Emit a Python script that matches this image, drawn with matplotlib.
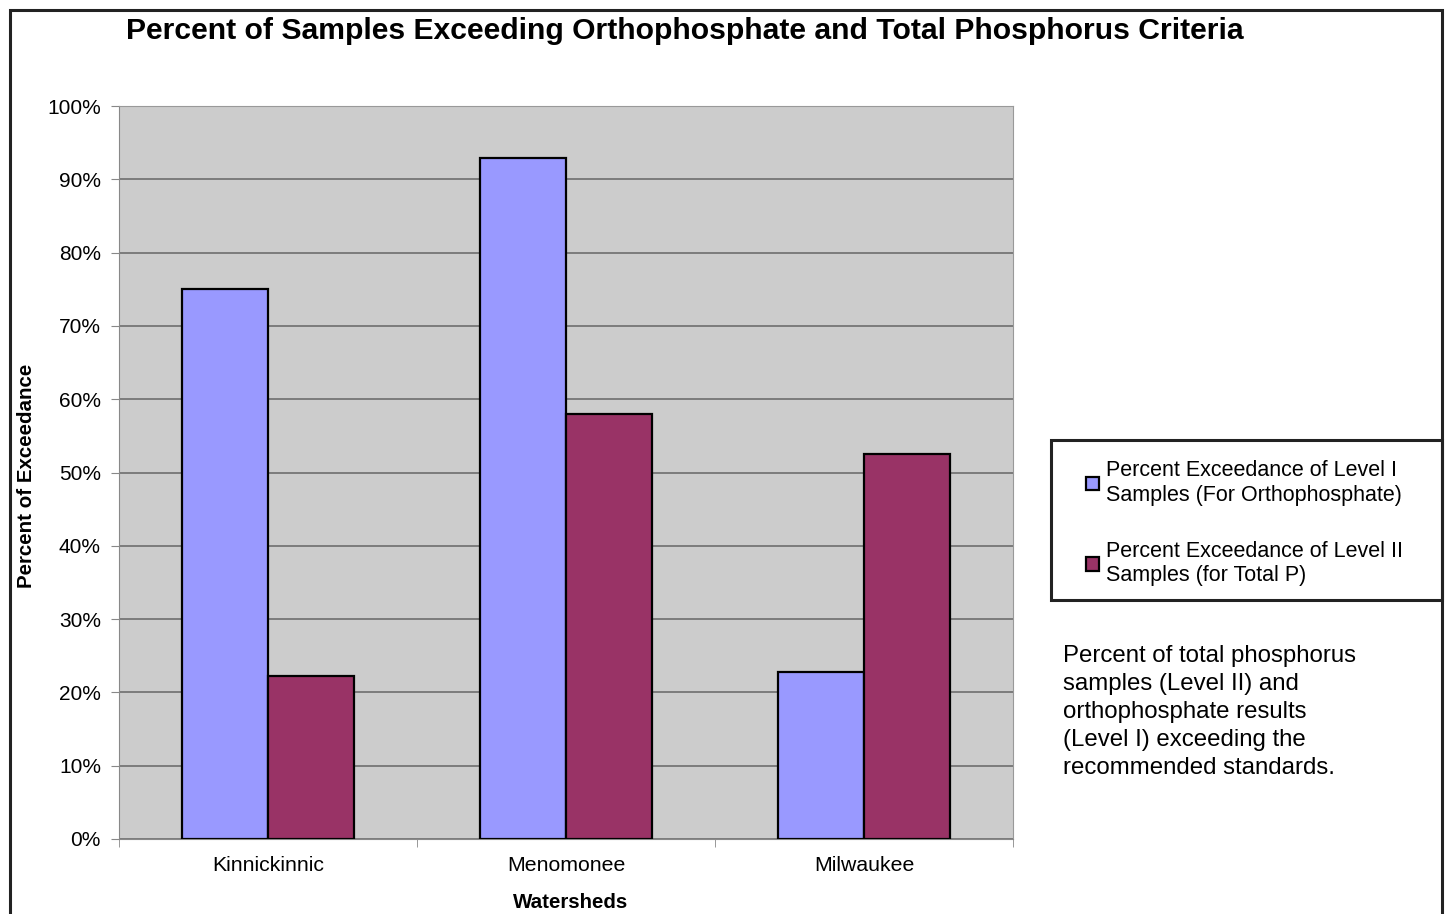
#!/usr/bin/env python3
"""Percent of samples exceeding orthophosphate and total phosphorus criteria."""

import matplotlib.pyplot as plt
import numpy as np
from matplotlib.patches import Rectangle
from matplotlib.ticker import FuncFormatter, MultipleLocator

plt.rcParams["font.family"] = ["Liberation Sans", "DejaVu Sans"]

watersheds = ["Kinnickinnic", "Menomonee", "Milwaukee"]
level1_pct = [75.0, 92.9, 22.8]
level2_pct = [22.2, 58.0, 52.5]
series_labels = [
    "Percent Exceedance of Level I\nSamples (For Orthophosphate)",
    "Percent Exceedance of Level II\nSamples (for Total P)",
]
note = ("Percent of total phosphorus\nsamples (Level II) and\northophosphate results\n"
        "(Level I) exceeding the\nrecommended standards.")

W, H = 1448, 914
fig = plt.figure(figsize=(W / 100, H / 100), dpi=100, facecolor="white")


def fx(px):
    return px / W


def fy(py):
    return 1 - py / H


# outer chart border
fig.patches.append(Rectangle((fx(10), fy(930)), fx(1432), 920 / H, transform=fig.transFigure,
                             fill=False, edgecolor="#222222", linewidth=2.2))

ax = fig.add_axes([fx(119), fy(839), fx(1013 - 119), (839 - 106) / H])
ax.set_facecolor("#cccccc")

x = np.arange(len(watersheds))
width = 0.287
ax.bar(x - width / 2, level1_pct, width, color="#9999ff", edgecolor="black", linewidth=1.6,
       label=series_labels[0], zorder=3)
ax.bar(x + width / 2, level2_pct, width, color="#993366", edgecolor="black", linewidth=1.6,
       label=series_labels[1], zorder=3)

ax.set_xlim(-0.5, len(watersheds) - 0.5)
ax.set_ylim(0, 100)
ax.yaxis.set_major_locator(MultipleLocator(10))
ax.yaxis.set_major_formatter(FuncFormatter(lambda v, _: f"{v:.0f}%"))
ax.grid(axis="y", color="#6e6e6e", linewidth=1.2, zorder=1)

ax.set_xticks(x)
ax.set_xticklabels(watersheds, fontsize=15.3)
ax.tick_params(axis="x", length=0, pad=12)
ax.set_xticks(np.arange(-0.5, len(watersheds)), minor=True)
ax.tick_params(axis="x", which="minor", length=6, color="#888888", direction="out")
ax.tick_params(axis="y", labelsize=15, length=6, color="#888888", direction="out", pad=7)

for side in ["top", "right"]:
    ax.spines[side].set_color("#999999")
for side in ["left", "bottom"]:
    ax.spines[side].set_color("#888888")

fig.text(fx(571), fy(903), "Watersheds", ha="center", va="center", fontsize=14.8, fontweight="bold")
ax.set_ylabel("Percent of Exceedance", fontsize=14.8, fontweight="bold")
ax.yaxis.set_label_coords((36 - 119) / (1013 - 119), 0.5 - (475 - 472) / 733)

fig.text(fx(685), fy(31), "Percent of Samples Exceeding Orthophosphate and Total Phosphorus Criteria",
         ha="center", va="center", fontsize=21.7, fontweight="bold")

# legend box
fig.patches.append(Rectangle((fx(1051), fy(600)), fx(1442 - 1051), 160 / H, transform=fig.transFigure,
                             fill=False, edgecolor="#222222", linewidth=2.2))
leg = fig.legend(loc="upper left", bbox_to_anchor=(fx(1067), fy(441)), frameon=False,
                 fontsize=15.5, handlelength=0.6, handleheight=0.6, handletextpad=0.3,
                 labelspacing=1.63)

fig.text(fx(1063), fy(645), note, ha="left", va="top", fontsize=17.3, linespacing=1.35)

fig.savefig("out.png", dpi=100, facecolor="white")
